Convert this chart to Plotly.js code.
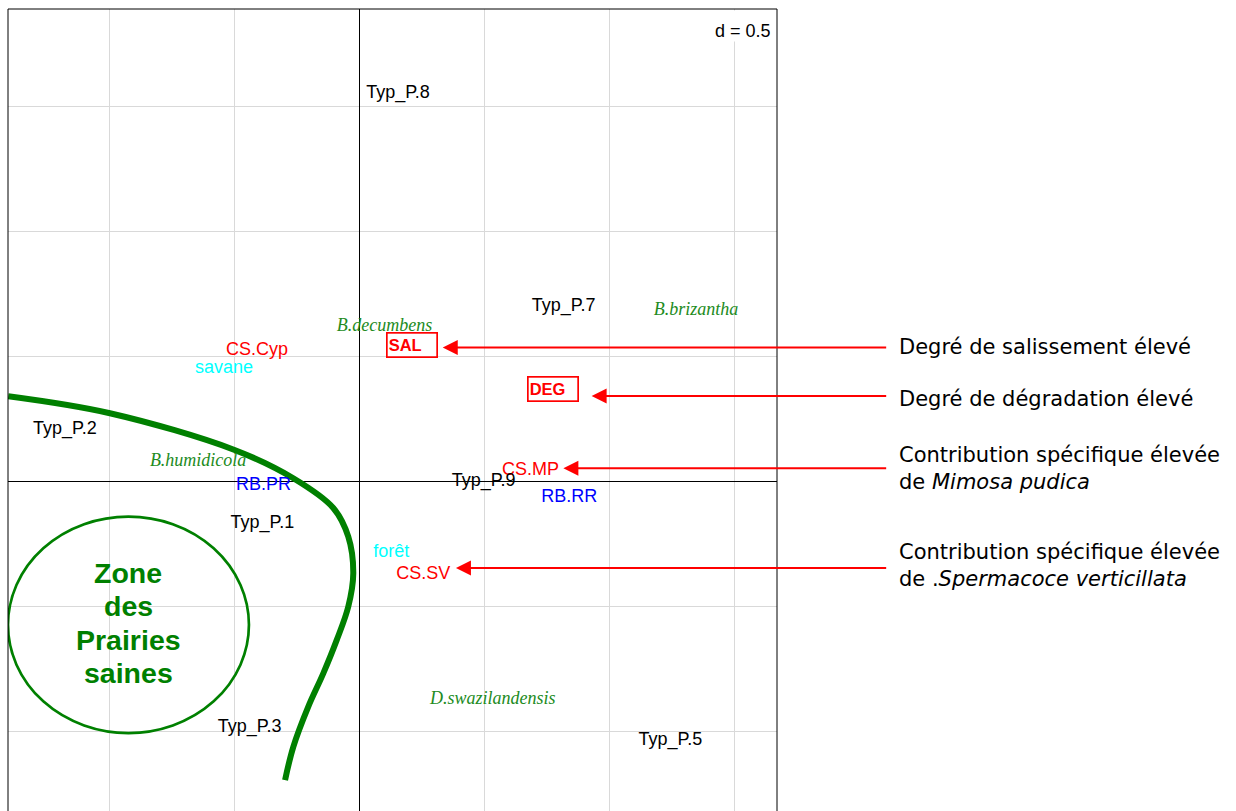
<!DOCTYPE html>
<html>
<head>
<meta charset="utf-8">
<script src="https://cdn.plot.ly/plotly-3.0.1.min.js"></script>
<style>html,body{margin:0;padding:0;background:#fff;}#chart{width:1236px;height:811px;}</style>
</head>
<body>
<div id="chart"></div>
<script>
// ---- data ----
const sansLabels = ['Typ_P.8','Typ_P.7','CS.Cyp','savane','Typ_P.2','RB.PR','Typ_P.1','CS.MP','Typ_P.9','RB.RR','forêt','CS.SV','Typ_P.3','Typ_P.5'];
const sansX = [0.155, 0.818, -0.409, -0.541, -1.178, -0.383, -0.388, 0.685, 0.498, 0.841, 0.128, 0.256, -0.439, 1.245];
const sansY = [1.552, 0.699, 0.526, 0.451, 0.207, -0.015, -0.167, 0.043, 0.001, -0.066, -0.283, -0.374, -0.984, -1.037];
const sansGroup = ['type','type','cs','milieu','type','rb','type','cs','type','rb','milieu','cs','type','type'];

const speciesLabels = ['B.brizantha','B.decumbens','B.humidicola','D.swazilandensis'];
const speciesX = [1.348, 0.101, -0.645, 0.534];
const speciesY = [0.683, 0.619, 0.080, -0.873];

const boxedLabels = ['SAL','DEG'];
const boxedX = [0.212, 0.775];
const boxedY = [0.548, 0.372];

const arrowTipX = [0.334, 0.930, 0.817, 0.387];
const arrowTipY = [0.536, 0.342, 0.053, -0.346];
const arrowTexts = [
  'Degré de salissement élevé',
  'Degré de dégradation élevé',
  'Contribution spécifique élevée<br>de <i>Mimosa pudica</i>',
  'Contribution spécifique élevée<br>de .<i>Spermacoce verticillata</i>'
];
const arrowTextY = [0.538, 0.331, 0.053, -0.336];

const curveX = [-1.405, -0.998, -0.499, -0.264, -0.104, -0.044, -0.024, -0.044, -0.090, -0.144, -0.204, -0.264, -0.297];
const curveY = [0.341, 0.273, 0.126, 0.013, -0.106, -0.221, -0.367, -0.501, -0.634, -0.768, -0.901, -1.062, -1.195];

const zoneEllipse = {x0: -1.406, x1: -0.4416, y0: -1.007, y1: -0.141};
const zoneLines = ['Zone', 'des', 'Prairies', 'saines'];

// ---- styles ----
const groupColor = {type: '#000000', cs: '#FF0000', milieu: '#00FFFF', rb: '#0000FF'};
const SANS = 'Liberation Sans, Arial, sans-serif';
const GREEN = '#008000';
const X_RANGE = [-1.406, 1.672];
const Y_RANGE = [-1.319, 1.891];
const toPaperY = v => (v - Y_RANGE[0]) / (Y_RANGE[1] - Y_RANGE[0]);

const traces = [
  {
    x: curveX, y: curveY, mode: 'lines', type: 'scatter',
    line: {color: GREEN, width: 6, shape: 'spline', smoothing: 1},
    hoverinfo: 'skip', showlegend: false, cliponaxis: true
  },
  {
    x: sansX, y: sansY, text: sansLabels, mode: 'text', type: 'scatter',
    textposition: 'middle center',
    textfont: {family: SANS, size: 18, color: sansGroup.map(g => groupColor[g])},
    hoverinfo: 'skip', showlegend: false, cliponaxis: false
  },
  {
    x: speciesX, y: speciesY, text: speciesLabels, mode: 'text', type: 'scatter',
    textposition: 'middle center',
    textfont: {family: 'Liberation Serif, Times New Roman, serif', size: 18, color: '#228B22', style: 'italic'},
    hoverinfo: 'skip', showlegend: false, cliponaxis: false
  }
];

const annotations = [];
boxedLabels.forEach((t, i) => {
  annotations.push({
    x: boxedX[i], y: boxedY[i], xref: 'x', yref: 'y', text: '<b>' + t + '</b>', showarrow: false,
    font: {family: SANS, size: 16.5, color: '#FF0000'},
    bordercolor: '#FF0000', borderwidth: 1.7, borderpad: 1,
    width: 47, height: 21, align: 'left', valign: 'middle',
    xanchor: 'center', yanchor: 'middle', bgcolor: 'rgba(255,255,255,0)'
  });
});
arrowTipX.forEach((tx, i) => {
  annotations.push({
    x: tx, y: arrowTipY[i], xref: 'x', yref: 'y',
    ax: 2.115, ay: arrowTipY[i], axref: 'x', ayref: 'y',
    text: '', showarrow: true, arrowhead: 2, arrowsize: 1.5, arrowwidth: 2,
    arrowcolor: '#FF0000', standoff: 0, startstandoff: 0
  });
  annotations.push({
    x: 1.156, y: toPaperY(arrowTextY[i]), xref: 'paper', yref: 'paper', text: arrowTexts[i],
    showarrow: false, xanchor: 'left', yanchor: 'middle', align: 'left',
    font: {family: 'DejaVu Sans, sans-serif', size: 21, color: '#000000'}
  });
});
const zoneSpacing = 33.3;
zoneLines.forEach((t, i) => {
  annotations.push({
    x: (zoneEllipse.x0 + zoneEllipse.x1) / 2, y: (zoneEllipse.y0 + zoneEllipse.y1) / 2,
    xref: 'x', yref: 'y', text: '<b>' + t + '</b>', showarrow: false,
    font: {family: SANS, size: 28.5, color: GREEN}, align: 'center',
    xanchor: 'center', yanchor: 'middle',
    yshift: (1.5 - i) * zoneSpacing + 2
  });
});
annotations.push({
  x: 0.9935, y: 0.99875, xref: 'paper', yref: 'paper', text: 'd = 0.5', showarrow: false,
  xanchor: 'right', yanchor: 'top', align: 'right', valign: 'bottom',
  height: 30, borderpad: 0, bgcolor: '#FFFFFF',
  font: {family: SANS, size: 18, color: '#000000'}
});

const axisCommon = {
  dtick: 0.5, tick0: 0, showticklabels: false, ticks: '',
  showgrid: true, gridcolor: '#D9D9D9', gridwidth: 1,
  zeroline: true, zerolinecolor: '#000000', zerolinewidth: 1,
  showline: false, fixedrange: true
};

const layout = {
  width: 1236, height: 811,
  margin: {l: 8, r: 459, t: 9, b: 0, pad: 0},
  paper_bgcolor: '#FFFFFF', plot_bgcolor: '#FFFFFF',
  xaxis: Object.assign({range: X_RANGE}, axisCommon),
  yaxis: Object.assign({range: Y_RANGE}, axisCommon),
  showlegend: false,
  annotations: annotations,
  shapes: [
    {type: 'circle', xref: 'x', yref: 'y', x0: zoneEllipse.x0, x1: zoneEllipse.x1, y0: zoneEllipse.y0, y1: zoneEllipse.y1,
     line: {color: GREEN, width: 2.7}, layer: 'above'},
    {type: 'rect', xref: 'paper', yref: 'paper', x0: 0, x1: 1, y0: -0.02, y1: 1,
     line: {color: '#000000', width: 1}, layer: 'above'}
  ]
};

Plotly.newPlot('chart', traces, layout, {displayModeBar: false, staticPlot: true});
</script>
</body>
</html>
